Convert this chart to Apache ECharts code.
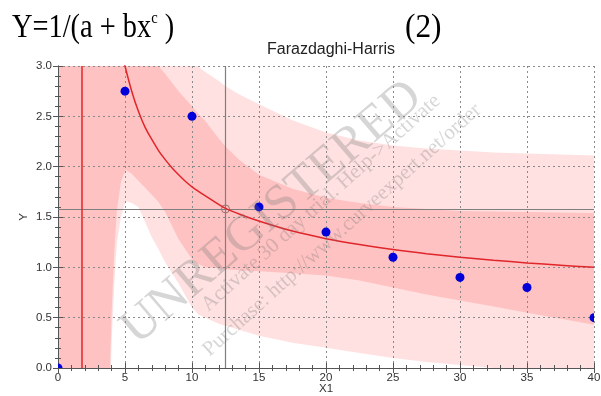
<!DOCTYPE html>
<html>
<head>
<meta charset="utf-8">
<script src="https://cdn.jsdelivr.net/npm/echarts@6/dist/echarts.min.js"></script>
<style>html,body{margin:0;padding:0;background:#fff}#c{width:601px;height:396px}</style>
</head>
<body>
<div id="c"></div>
<script>
// ---- data ----
const dataX = [0, 5, 10, 15, 20, 25, 30, 35, 40];
const dataY = [0, 2.75, 2.5, 1.6, 1.35, 1.1, 0.9, 0.8, 0.5];

const fitX = [4.9, 5, 5.5, 6, 6.5, 7, 7.5, 8, 8.5, 9, 9.5, 10, 11, 12.5, 14, 15, 17.5, 20, 22.5, 25, 27.5, 30, 32.5, 35, 37.5, 40];
const fitY = [3.07, 3.0, 2.75, 2.55, 2.39, 2.27, 2.16, 2.07, 1.99, 1.92, 1.855, 1.80, 1.71, 1.585, 1.505, 1.46, 1.36, 1.285, 1.226, 1.177, 1.136, 1.101, 1.071, 1.044, 1.021, 1.0];

const bandX   = [0, 3.85, 3.9, 4.0, 4.2, 4.4, 4.7, 5.05, 5.5, 6, 7, 7.5, 8, 9, 10, 10.5, 11, 12, 12.5, 13.5, 15, 17.5, 20, 22.5, 25, 27.5, 30, 32.5, 35, 37.5, 40];
const ciUpper = [3.5, 3.5, 3.5, 3.5, 3.5, 3.5, 3.5, 3.5, 3.5, 3.5, 3.1, 3.0, 2.92, 2.75, 2.6, 2.52, 2.45, 2.28, 2.2, 2.07, 1.92, 1.78, 1.69, 1.64, 1.6, 1.58, 1.56, 1.555, 1.55, 1.545, 1.54];
const ciLower = [-0.5, -0.5, 0.1, 0.55, 1.15, 1.57, 1.85, 1.97, 1.93, 1.86, 1.72, 1.65, 1.55, 1.28, 1.08, 1.03, 1.0, 0.99, 0.98, 0.97, 0.96, 0.94, 0.92, 0.87, 0.8, 0.73, 0.67, 0.61, 0.55, 0.49, 0.43];
const piUpper = [3.5, 3.5, 3.5, 3.5, 3.5, 3.5, 3.5, 3.5, 3.5, 3.5, 3.5, 3.5, 3.5, 3.3, 3.05, 2.99, 2.94, 2.85, 2.8, 2.72, 2.62, 2.46, 2.34, 2.26, 2.21, 2.18, 2.16, 2.14, 2.13, 2.12, 2.11];
const piLower = [-0.5, -0.5, -0.2, 0.25, 0.85, 1.25, 1.5, 1.66, 1.64, 1.6, 1.3, 1.18, 1.05, 0.84, 0.6, 0.53, 0.5, 0.44, 0.42, 0.38, 0.32, 0.25, 0.2, 0.15, 0.1, 0.06, 0.03, 0.0, -0.03, -0.06, -0.08];

const poleX = 1.8;
const crossX = 12.5;
const crossY = 1.58;

const xTicks = [0, 5, 10, 15, 20, 25, 30, 35, 40];
const yTicks = ['0.0', '0.5', '1.0', '1.5', '2.0', '2.5', '3.0'];

const chartTitle = 'Farazdaghi-Harris';
const xName = 'X1';
const yName = 'Y';
// ---------------------------------------

const chart = echarts.init(document.getElementById('c'), null, {renderer: 'canvas'});

function band(upper, lower, color, z) {
  return {
    type: 'custom', clip: true, silent: true, z: z, data: [[0, 0]],
    renderItem: function (params, api) {
      const pts = [];
      for (let i = 0; i < bandX.length; i++) pts.push(api.coord([bandX[i], upper[i]]));
      for (let i = bandX.length - 1; i >= 0; i--) pts.push(api.coord([bandX[i], lower[i]]));
      return {type: 'polygon', shape: {points: pts}, style: {fill: color}};
    }
  };
}

const axisCommon = {
  type: 'value',
  axisLine: {show: true, lineStyle: {color: '#555', width: 1}},
  axisTick: {show: true, inside: true, length: 5, lineStyle: {color: '#555'}},
  minorTick: {show: true, splitNumber: 5, length: 3, lineStyle: {color: '#555'}},
};
const labelFont = {fontFamily: 'Liberation Sans, Arial, sans-serif', fontSize: 11.5, color: '#333'};

const option = {
  animation: false,
  title: {
    text: chartTitle, left: 326, top: 37, textAlign: 'center',
    textStyle: {fontFamily: 'Liberation Sans, Arial, sans-serif', fontSize: 16, fontWeight: 'normal', color: '#222'}
  },
  grid: {left: 58, right: 7, top: 66, bottom: 28, containLabel: false, outerBoundsMode: 'none'},
  xAxis: [
    Object.assign({}, axisCommon, {
      min: 0, max: 40, interval: 5, position: 'bottom', z: 3,
      name: xName, nameLocation: 'middle', nameGap: 15, nameMoveOverlap: false,
      nameTextStyle: Object.assign({verticalAlign: 'top'}, labelFont),
      axisLabel: Object.assign({margin: 4, formatter: function (v) { return String(xTicks[Math.round(v / 5)]); }}, labelFont),
      splitLine: {show: true, lineStyle: {color: '#8a8a8a', type: [2, 3], width: 1}}
    }),
    Object.assign({}, axisCommon, {
      min: 0, max: 40, interval: 5, position: 'top', z: 3,
      axisLabel: {show: false}, splitLine: {show: false}
    })
  ],
  yAxis: [
    Object.assign({}, axisCommon, {
      min: 0, max: 3, interval: 0.5, position: 'left', z: 3,
      name: yName, nameLocation: 'middle', nameGap: 28, nameMoveOverlap: false,
      nameTextStyle: labelFont,
      axisLabel: Object.assign({margin: 6, formatter: function (v) { return yTicks[Math.round(v / 0.5)]; }}, labelFont),
      splitLine: {show: true, lineStyle: {color: '#8a8a8a', type: [2, 3], width: 1}}
    }),
    Object.assign({}, axisCommon, {
      min: 0, max: 3, interval: 0.5, position: 'right', z: 3,
      axisLabel: {show: false}, splitLine: {show: false}
    })
  ],
  series: [
    band(piUpper, piLower, '#ffe1e1', 1),
    band(ciUpper, ciLower, '#ffc2c2', 1.5),
    {
      type: 'line', data: [], z: 4, silent: true,
      markLine: {
        silent: true, symbol: 'none', label: {show: false}, animation: false,
        data: [
          {xAxis: crossX, lineStyle: {color: '#7f7f7f', width: 1.2, type: 'solid'}},
          {yAxis: crossY, lineStyle: {color: '#7f7f7f', width: 1.2, type: 'solid'}},
          {xAxis: poleX, lineStyle: {color: '#e0262a', width: 1.5, type: 'solid'}}
        ]
      }
    },
    {
      type: 'scatter', z: 4, silent: true, data: [[crossX, crossY]],
      symbol: 'circle', symbolSize: 8,
      itemStyle: {color: 'rgba(0,0,0,0)', borderColor: '#8a5a5a', borderWidth: 1}
    },
    {
      type: 'line', z: 5, silent: true, clip: true, smooth: 0.3, showSymbol: false,
      data: fitX.map(function (x, i) { return [x, fitY[i]]; }),
      lineStyle: {color: '#e0262a', width: 1.5}
    },
    {
      type: 'custom', z: 6, clip: true, silent: true,
      data: dataX.map(function (x, i) { return [x, dataY[i]]; }),
      renderItem: function (params, api) {
        const c = api.coord([api.value(0), api.value(1)]);
        return {type: 'circle', shape: {cx: c[0], cy: c[1], r: 4.5}, style: {fill: '#0000d8'}};
      }
    }
  ],
  graphic: [
    {
      type: 'text', left: 12, top: 10, z: 100, scaleX: 0.86,
      style: {
        text: '{m|Y=1/(a + bx}{s|c}{m| )}',
        rich: {
          m: {fontFamily: 'Liberation Serif, Times New Roman, serif', fontSize: 33, lineHeight: 37, fill: '#000'},
          s: {fontFamily: 'Liberation Serif, Times New Roman, serif', fontSize: 17, lineHeight: 17, verticalAlign: 'top', fill: '#000'}
        }
      }
    },
    {
      type: 'text', left: 405, top: 10, z: 100, scaleX: 0.95,
      style: {text: '(2)', fontFamily: 'Liberation Serif, Times New Roman, serif', fontSize: 33, lineHeight: 37, fill: '#000'}
    },
    {
      type: 'text', x: 272, y: 213, rotation: 40.5 * Math.PI / 180, z: 100, silent: true,
      style: {text: 'UNREGISTERED', fontFamily: 'Liberation Serif, serif', fontSize: 50,
        textAlign: 'center', textVerticalAlign: 'middle', fill: 'rgba(120,120,120,0.3)'}
    },
    {
      type: 'text', x: 321, y: 203, rotation: 42 * Math.PI / 180, z: 100, silent: true,
      style: {text: 'Activate 30 day trial. Help->Activate', fontFamily: 'Liberation Serif, serif', fontSize: 21,
        textAlign: 'center', textVerticalAlign: 'middle', fill: 'rgba(120,120,120,0.3)'}
    },
    {
      type: 'text', x: 342, y: 230, rotation: 42 * Math.PI / 180, z: 100, silent: true,
      style: {text: 'Purchase: http://www.curveexpert.net/order', fontFamily: 'Liberation Serif, serif', fontSize: 21,
        textAlign: 'center', textVerticalAlign: 'middle', fill: 'rgba(120,120,120,0.3)'}
    }
  ]
};
chart.setOption(option);
</script>
</body>
</html>
